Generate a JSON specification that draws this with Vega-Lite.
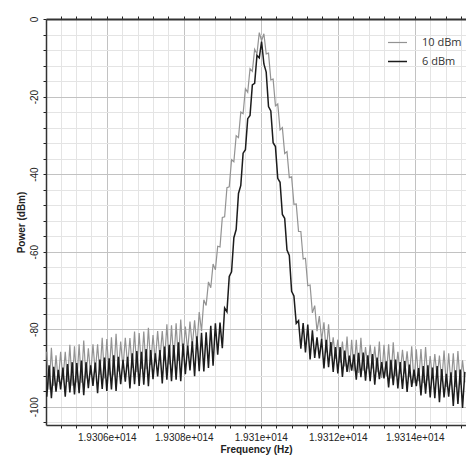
{
"$schema": "https://vega.github.io/schema/vega-lite/v6.json",
"width": 420, "height": 406,
"autosize": {"type": "none"},
"padding": {"left": 46, "top": 19, "right": 0, "bottom": 33},
"background": "white",
"config": {"view": {"stroke": null}, "font": "Liberation Sans",
 "legend": {"title": null, "symbolType": "stroke", "symbolSize": 361, "labelFont": "Open Sans", "labelFontSize": 11, "labelColor": "#333", "labelOffset": 14, "rowPadding": 3, "padding": 0}},
"data": {"values": [
{"f":193044.4,"10 dBm":-85.8,"6 dBm":-97.4},
{"f":193045.0,"10 dBm":-95.6,"6 dBm":-89.3},
{"f":193045.6,"10 dBm":-84.8,"6 dBm":-97.8},
{"f":193046.2,"10 dBm":-94.6,"6 dBm":-89.7},
{"f":193046.8,"10 dBm":-86.7,"6 dBm":-96.1},
{"f":193047.4,"10 dBm":-93.6,"6 dBm":-90.5},
{"f":193048.0,"10 dBm":-85.8,"6 dBm":-95.5},
{"f":193048.6,"10 dBm":-93.0,"6 dBm":-89.9},
{"f":193049.2,"10 dBm":-85.8,"6 dBm":-97.4},
{"f":193049.8,"10 dBm":-93.6,"6 dBm":-89.0},
{"f":193050.4,"10 dBm":-84.0,"6 dBm":-96.3},
{"f":193051.0,"10 dBm":-94.6,"6 dBm":-88.5},
{"f":193051.6,"10 dBm":-84.4,"6 dBm":-96.8},
{"f":193052.2,"10 dBm":-93.7,"6 dBm":-88.7},
{"f":193052.8,"10 dBm":-83.9,"6 dBm":-96.5},
{"f":193053.4,"10 dBm":-93.8,"6 dBm":-88.1},
{"f":193054.0,"10 dBm":-82.9,"6 dBm":-97.0},
{"f":193054.6,"10 dBm":-92.7,"6 dBm":-88.5},
{"f":193055.2,"10 dBm":-84.9,"6 dBm":-95.2},
{"f":193055.8,"10 dBm":-91.7,"6 dBm":-89.3},
{"f":193056.4,"10 dBm":-83.9,"6 dBm":-94.6},
{"f":193057.0,"10 dBm":-91.2,"6 dBm":-88.6},
{"f":193057.6,"10 dBm":-83.9,"6 dBm":-96.5},
{"f":193058.2,"10 dBm":-91.7,"6 dBm":-87.8},
{"f":193058.8,"10 dBm":-82.2,"6 dBm":-95.4},
{"f":193059.4,"10 dBm":-92.7,"6 dBm":-87.3},
{"f":193060.0,"10 dBm":-82.5,"6 dBm":-95.9},
{"f":193060.6,"10 dBm":-91.9,"6 dBm":-87.5},
{"f":193061.2,"10 dBm":-82.1,"6 dBm":-95.5},
{"f":193061.8,"10 dBm":-91.9,"6 dBm":-86.7},
{"f":193062.4,"10 dBm":-81.2,"6 dBm":-95.9},
{"f":193063.0,"10 dBm":-90.9,"6 dBm":-87.1},
{"f":193063.6,"10 dBm":-83.2,"6 dBm":-94.2},
{"f":193064.2,"10 dBm":-90.0,"6 dBm":-87.9},
{"f":193064.8,"10 dBm":-82.2,"6 dBm":-93.5},
{"f":193065.4,"10 dBm":-89.4,"6 dBm":-87.1},
{"f":193066.0,"10 dBm":-82.3,"6 dBm":-95.3},
{"f":193066.6,"10 dBm":-90.0,"6 dBm":-86.2},
{"f":193067.2,"10 dBm":-80.6,"6 dBm":-94.2},
{"f":193067.8,"10 dBm":-91.0,"6 dBm":-85.6},
{"f":193068.4,"10 dBm":-81.0,"6 dBm":-94.6},
{"f":193069.0,"10 dBm":-90.2,"6 dBm":-85.8},
{"f":193069.6,"10 dBm":-80.6,"6 dBm":-94.3},
{"f":193070.2,"10 dBm":-90.3,"6 dBm":-85.1},
{"f":193070.8,"10 dBm":-79.6,"6 dBm":-94.7},
{"f":193071.4,"10 dBm":-89.2,"6 dBm":-85.4},
{"f":193072.0,"10 dBm":-81.5,"6 dBm":-92.9},
{"f":193072.6,"10 dBm":-88.2,"6 dBm":-86.2},
{"f":193073.2,"10 dBm":-80.5,"6 dBm":-92.2},
{"f":193073.8,"10 dBm":-87.6,"6 dBm":-85.4},
{"f":193074.4,"10 dBm":-80.5,"6 dBm":-94.0},
{"f":193075.0,"10 dBm":-88.1,"6 dBm":-84.5},
{"f":193075.6,"10 dBm":-78.7,"6 dBm":-93.0},
{"f":193076.2,"10 dBm":-89.1,"6 dBm":-84.0},
{"f":193076.8,"10 dBm":-79.0,"6 dBm":-93.4},
{"f":193077.4,"10 dBm":-88.2,"6 dBm":-84.1},
{"f":193078.0,"10 dBm":-78.5,"6 dBm":-93.0},
{"f":193078.6,"10 dBm":-88.2,"6 dBm":-83.4},
{"f":193079.2,"10 dBm":-77.5,"6 dBm":-93.4},
{"f":193079.8,"10 dBm":-87.1,"6 dBm":-83.7},
{"f":193080.4,"10 dBm":-79.3,"6 dBm":-91.6},
{"f":193081.0,"10 dBm":-85.6,"6 dBm":-84.2},
{"f":193081.6,"10 dBm":-78.0,"6 dBm":-90.6},
{"f":193082.2,"10 dBm":-84.4,"6 dBm":-83.1},
{"f":193082.8,"10 dBm":-77.7,"6 dBm":-92.1},
{"f":193083.4,"10 dBm":-84.3,"6 dBm":-81.8},
{"f":193084.0,"10 dBm":-75.6,"6 dBm":-90.8},
{"f":193084.6,"10 dBm":-80.5,"6 dBm":-80.9},
{"f":193085.2,"10 dBm":-72.4,"6 dBm":-90.9},
{"f":193085.8,"10 dBm":-73.9,"6 dBm":-80.8},
{"f":193086.4,"10 dBm":-67.8,"6 dBm":-90.0},
{"f":193087.0,"10 dBm":-69.3,"6 dBm":-79.1},
{"f":193087.6,"10 dBm":-63.2,"6 dBm":-89.4},
{"f":193088.2,"10 dBm":-64.7,"6 dBm":-78.5},
{"f":193088.8,"10 dBm":-58.6,"6 dBm":-86.6},
{"f":193089.4,"10 dBm":-58.8,"6 dBm":-78.3},
{"f":193090.0,"10 dBm":-51.2,"6 dBm":-84.9},
{"f":193090.6,"10 dBm":-51.0,"6 dBm":-74.5},
{"f":193091.2,"10 dBm":-43.5,"6 dBm":-75.5},
{"f":193091.8,"10 dBm":-43.3,"6 dBm":-66.4},
{"f":193092.4,"10 dBm":-36.3,"6 dBm":-65.2},
{"f":193093.0,"10 dBm":-36.8,"6 dBm":-56.4},
{"f":193093.6,"10 dBm":-30.1,"6 dBm":-54.3},
{"f":193094.2,"10 dBm":-30.6,"6 dBm":-45.0},
{"f":193094.8,"10 dBm":-24.0,"6 dBm":-42.9},
{"f":193095.4,"10 dBm":-24.4,"6 dBm":-34.6},
{"f":193096.0,"10 dBm":-18.0,"6 dBm":-33.7},
{"f":193096.6,"10 dBm":-18.9,"6 dBm":-25.7},
{"f":193097.2,"10 dBm":-12.8,"6 dBm":-24.9},
{"f":193097.8,"10 dBm":-13.5,"6 dBm":-17.0},
{"f":193098.4,"10 dBm":-7.8,"6 dBm":-16.6},
{"f":193099.0,"10 dBm":-9.0,"6 dBm":-9.4},
{"f":193099.6,"10 dBm":-3.5,"6 dBm":-10.0},
{"f":193100.2,"10 dBm":-5.6,"6 dBm":-5.8},
{"f":193100.8,"10 dBm":-3.8,"6 dBm":-11.6},
{"f":193101.4,"10 dBm":-9.0,"6 dBm":-13.7},
{"f":193102.0,"10 dBm":-8.8,"6 dBm":-22.6},
{"f":193102.6,"10 dBm":-15.7,"6 dBm":-23.7},
{"f":193103.2,"10 dBm":-15.5,"6 dBm":-31.9},
{"f":193103.8,"10 dBm":-22.4,"6 dBm":-32.9},
{"f":193104.4,"10 dBm":-21.9,"6 dBm":-41.1},
{"f":193105.0,"10 dBm":-28.6,"6 dBm":-42.1},
{"f":193105.6,"10 dBm":-28.0,"6 dBm":-50.4},
{"f":193106.2,"10 dBm":-34.7,"6 dBm":-51.4},
{"f":193106.8,"10 dBm":-34.2,"6 dBm":-59.6},
{"f":193107.4,"10 dBm":-40.9,"6 dBm":-61.0},
{"f":193108.0,"10 dBm":-40.7,"6 dBm":-70.2},
{"f":193108.6,"10 dBm":-47.8,"6 dBm":-71.4},
{"f":193109.2,"10 dBm":-47.7,"6 dBm":-78.5},
{"f":193109.8,"10 dBm":-54.8,"6 dBm":-77.8},
{"f":193110.4,"10 dBm":-54.8,"6 dBm":-85.0},
{"f":193111.0,"10 dBm":-61.9,"6 dBm":-78.4},
{"f":193111.6,"10 dBm":-61.7,"6 dBm":-86.0},
{"f":193112.2,"10 dBm":-68.8,"6 dBm":-78.8},
{"f":193112.8,"10 dBm":-68.6,"6 dBm":-87.8},
{"f":193113.4,"10 dBm":-75.8,"6 dBm":-80.3},
{"f":193114.0,"10 dBm":-73.9,"6 dBm":-87.4},
{"f":193114.6,"10 dBm":-80.5,"6 dBm":-82.1},
{"f":193115.2,"10 dBm":-76.6,"6 dBm":-87.5},
{"f":193115.8,"10 dBm":-82.8,"6 dBm":-82.5},
{"f":193116.4,"10 dBm":-78.2,"6 dBm":-90.1},
{"f":193117.0,"10 dBm":-86.0,"6 dBm":-82.7},
{"f":193117.6,"10 dBm":-78.7,"6 dBm":-89.8},
{"f":193118.2,"10 dBm":-86.9,"6 dBm":-83.3},
{"f":193118.8,"10 dBm":-82.1,"6 dBm":-91.0},
{"f":193119.4,"10 dBm":-87.6,"6 dBm":-84.6},
{"f":193120.0,"10 dBm":-82.7,"6 dBm":-91.4},
{"f":193120.6,"10 dBm":-88.6,"6 dBm":-84.6},
{"f":193121.2,"10 dBm":-83.2,"6 dBm":-92.3},
{"f":193121.8,"10 dBm":-89.6,"6 dBm":-85.5},
{"f":193122.4,"10 dBm":-81.9,"6 dBm":-91.0},
{"f":193123.0,"10 dBm":-91.1,"6 dBm":-86.8},
{"f":193123.6,"10 dBm":-82.7,"6 dBm":-90.7},
{"f":193124.2,"10 dBm":-90.8,"6 dBm":-86.5},
{"f":193124.8,"10 dBm":-82.7,"6 dBm":-93.0},
{"f":193125.4,"10 dBm":-91.3,"6 dBm":-86.1},
{"f":193126.0,"10 dBm":-82.2,"6 dBm":-92.4},
{"f":193126.6,"10 dBm":-90.7,"6 dBm":-86.0},
{"f":193127.2,"10 dBm":-84.6,"6 dBm":-93.3},
{"f":193127.8,"10 dBm":-90.2,"6 dBm":-86.7},
{"f":193128.4,"10 dBm":-84.0,"6 dBm":-93.4},
{"f":193129.0,"10 dBm":-90.1,"6 dBm":-86.4},
{"f":193129.6,"10 dBm":-84.5,"6 dBm":-94.3},
{"f":193130.2,"10 dBm":-91.1,"6 dBm":-87.3},
{"f":193130.8,"10 dBm":-83.2,"6 dBm":-92.9},
{"f":193131.4,"10 dBm":-92.6,"6 dBm":-88.5},
{"f":193132.0,"10 dBm":-84.0,"6 dBm":-92.7},
{"f":193132.6,"10 dBm":-92.2,"6 dBm":-88.3},
{"f":193133.2,"10 dBm":-83.9,"6 dBm":-95.0},
{"f":193133.8,"10 dBm":-92.7,"6 dBm":-87.9},
{"f":193134.4,"10 dBm":-83.4,"6 dBm":-94.4},
{"f":193135.0,"10 dBm":-92.1,"6 dBm":-87.8},
{"f":193135.6,"10 dBm":-85.8,"6 dBm":-95.3},
{"f":193136.2,"10 dBm":-91.5,"6 dBm":-88.5},
{"f":193136.8,"10 dBm":-85.3,"6 dBm":-95.4},
{"f":193137.4,"10 dBm":-91.4,"6 dBm":-88.2},
{"f":193138.0,"10 dBm":-85.7,"6 dBm":-96.2},
{"f":193138.6,"10 dBm":-92.4,"6 dBm":-89.1},
{"f":193139.2,"10 dBm":-84.4,"6 dBm":-94.9},
{"f":193139.8,"10 dBm":-93.9,"6 dBm":-90.4},
{"f":193140.4,"10 dBm":-85.2,"6 dBm":-94.7},
{"f":193141.0,"10 dBm":-93.4,"6 dBm":-90.0},
{"f":193141.6,"10 dBm":-85.1,"6 dBm":-97.1},
{"f":193142.2,"10 dBm":-93.9,"6 dBm":-89.5},
{"f":193142.8,"10 dBm":-84.6,"6 dBm":-96.6},
{"f":193143.4,"10 dBm":-93.2,"6 dBm":-89.3},
{"f":193144.0,"10 dBm":-86.9,"6 dBm":-97.6},
{"f":193144.6,"10 dBm":-92.7,"6 dBm":-89.9},
{"f":193145.2,"10 dBm":-86.4,"6 dBm":-97.8},
{"f":193145.8,"10 dBm":-92.5,"6 dBm":-89.5},
{"f":193146.4,"10 dBm":-86.8,"6 dBm":-98.8},
{"f":193147.0,"10 dBm":-93.5,"6 dBm":-90.3},
{"f":193147.6,"10 dBm":-85.5,"6 dBm":-97.6},
{"f":193148.2,"10 dBm":-94.9,"6 dBm":-91.5},
{"f":193148.8,"10 dBm":-86.2,"6 dBm":-97.4},
{"f":193149.4,"10 dBm":-94.5,"6 dBm":-91.1},
{"f":193150.0,"10 dBm":-86.2,"6 dBm":-99.8},
{"f":193150.6,"10 dBm":-94.9,"6 dBm":-90.6},
{"f":193151.2,"10 dBm":-85.6,"6 dBm":-99.3},
{"f":193151.8,"10 dBm":-94.3,"6 dBm":-90.4},
{"f":193152.4,"10 dBm":-88.0,"6 dBm":-100.3},
{"f":193153.0,"10 dBm":-93.7,"6 dBm":-91.0}
]},
"transform": [{"fold": ["10 dBm", "6 dBm"], "as": ["series", "power"]}],
"layer": [
 {
  "mark": {"type": "line", "clip": true},
  "encoding": {
   "x": {"field": "f", "type": "quantitative",
    "scale": {"domain": [193044.2, 193153.3], "nice": false, "zero": false},
    "axis": {"orient": "bottom",
     "values": [193048,193052,193056,193060,193064,193068,193072,193076,193080,193084,193088,193092,193096,193100,193104,193108,193112,193116,193120,193124,193128,193132,193136,193140,193144,193148,193152],
     "title": "Frequency (Hz)",
     "labelExpr": "datum.value % 20 === 0 ? format(datum.value/100000, '.5~f') + 'e+014' : ''",
     "labelFont": "Liberation Sans", "labelFontSize": 10, "labelColor": "#222",
     "labelPadding": 4, "labelOverlap": false, "labelFlush": false, "labelBound": false,
     "tickSize": 3, "tickColor": "#222", "domainColor": "#333", "domainWidth": 1.5,
     "grid": true,
     "gridColor": {"condition": {"test": "datum.value % 20 === 0", "value": "#c2c2c2"}, "value": "#e4e4e4"},
     "titleFont": "Liberation Sans", "titleFontSize": 10, "titleFontWeight": "bold", "titleColor": "#222", "titlePadding": 2}},
   "y": {"field": "power", "type": "quantitative",
    "scale": {"domain": [-104.7, 0], "nice": false, "zero": false},
    "axis": {
     "values": [0,-4,-8,-12,-16,-20,-24,-28,-32,-36,-40,-44,-48,-52,-56,-60,-64,-68,-72,-76,-80,-84,-88,-92,-96,-100,-104],
     "title": "Power (dBm)",
     "labelExpr": "datum.value % 20 === 0 ? '' + datum.value : ''",
     "labelAngle": -90, "labelAlign": "center", "labelBaseline": "bottom",
     "labelFont": "Liberation Sans", "labelFontSize": 10, "labelColor": "#222",
     "labelPadding": 4, "labelOverlap": false, "labelFlush": false, "labelBound": false,
     "tickSize": 3, "tickColor": "#222", "domainColor": "#333", "domainWidth": 1.5,
     "grid": true,
     "gridColor": {"condition": {"test": "datum.value % 20 === 0", "value": "#c2c2c2"}, "value": "#e4e4e4"},
     "titleFont": "Liberation Sans", "titleFontSize": 10, "titleFontWeight": "bold", "titleColor": "#222", "titlePadding": 3}},
   "color": {"field": "series", "type": "nominal",
    "scale": {"domain": ["10 dBm", "6 dBm"], "range": ["#939393", "#1c1c1c"]},
    "legend": {"orient": "none", "legendX": 341, "legendY": 13}},
   "strokeWidth": {"field": "series", "type": "nominal",
    "scale": {"domain": ["10 dBm", "6 dBm"], "range": [1.2, 1.5]},
    "legend": {"orient": "none", "legendX": 341, "legendY": 13}}
  }
 },
 {
  "mark": {"type": "point", "opacity": 0},
  "encoding": {
   "x": {"field": "f", "type": "quantitative",
    "axis": {"orient": "top", "values": [193048,193052,193056,193060,193064,193068,193072,193076,193080,193084,193088,193092,193096,193100,193104,193108,193112,193116,193120,193124,193128,193132,193136,193140,193144,193148,193152],
     "labels": false, "title": null, "grid": false, "tickSize": 3, "tickColor": "#222", "domainColor": "#333", "domainWidth": 2}}
  }
 }
],
"resolve": {"axis": {"x": "independent"}}
}
